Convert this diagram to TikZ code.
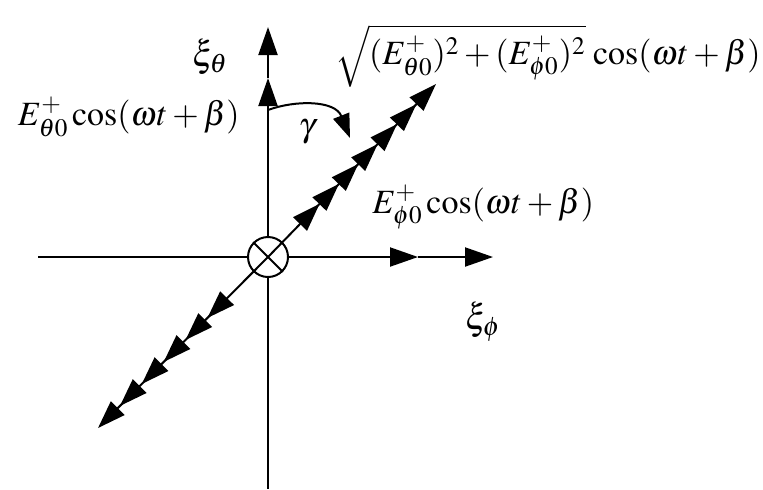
\documentclass[tikz,border=0pt]{standalone}
\usepackage{mathptmx}
\usepackage{fontspec}
\setmainfont{Liberation Serif}
\usetikzlibrary{arrows.meta,decorations.markings}

\begin{document}
\begin{tikzpicture}[x=.5pt,y=-.5pt,
  hd/.tip={Triangle[length=14pt,width=9.5pt]},
  axis/.style={line width=1pt},
  lbl/.style={inner sep=0pt,font=\fontsize{17}{20}\selectfont},
  xilbl/.style={inner sep=0pt,font=\fontsize{18}{21}\selectfont},
  upmarks/.style={-{hd},postaction={decorate},decoration={markings,mark=between positions 37pt and 107pt step 13.9pt with {\arrow{hd}}}},
  dnmarks/.style={-{hd},postaction={decorate},decoration={markings,mark=between positions 43pt and 106pt step 15.5pt with {\arrow{hd}}}}]
\useasboundingbox (0,0) rectangle (763,489);
\node[circle,draw,line width=1pt,minimum size=20pt,inner sep=0pt] (ctr) at (268,257) {};
\coordinate (xl) at (38,257);\coordinate (xm) at (418,257);\coordinate (xr) at (493,257);
\coordinate (yt) at (268,27);\coordinate (ym) at (268,78);\coordinate (yb) at (268,489);
\coordinate (ne) at (436,84);\coordinate (sw) at (98,428);
\coordinate (gs) at (268,110);\coordinate (ge) at (350,138);
% axes
\draw[axis] (xl)--(ctr.west);
\draw[axis,-{hd}] (ctr.east)--(xm);\draw[axis,-{hd}] (xm)--(xr);
\draw[axis] (ctr.south)--(yb);
\draw[axis,-{hd}] (ctr.north)--(ym);\draw[axis,-{hd}] (ym)--(yt);
% resultant
\draw[axis,upmarks] (ctr.center)--(ne);
\draw[axis,dnmarks] (ctr.center)--(sw);
\draw[axis] (ctr.north west)--(ctr.south east);
\draw[axis,-{hd[length=12pt,width=8.5pt]}] (gs) .. controls (295,100) and (335,100) .. (ge);
% labels
\node[xilbl] (xith) at (210,57) {$\xi_\theta$};
\node[xilbl] (xiph) at (483,322) {$\xi_\phi$};
\node[lbl,anchor=base east] (eth) at (240,125) {$E^+_{\theta0}\cos(\omega t+\beta)$};
\node[lbl,anchor=base west] (eph) at (372,213) {$E^+_{\phi0}\cos(\omega t+\beta)$};
\node[lbl,anchor=base east] (emag) at (761,64) {$\sqrt{(E^+_{\theta0})^2+(E^+_{\phi0})^2}\,\cos(\omega t+\beta)$};
\node[lbl] (gam) at (307,132) {$\gamma$};
\end{tikzpicture}
\end{document}
